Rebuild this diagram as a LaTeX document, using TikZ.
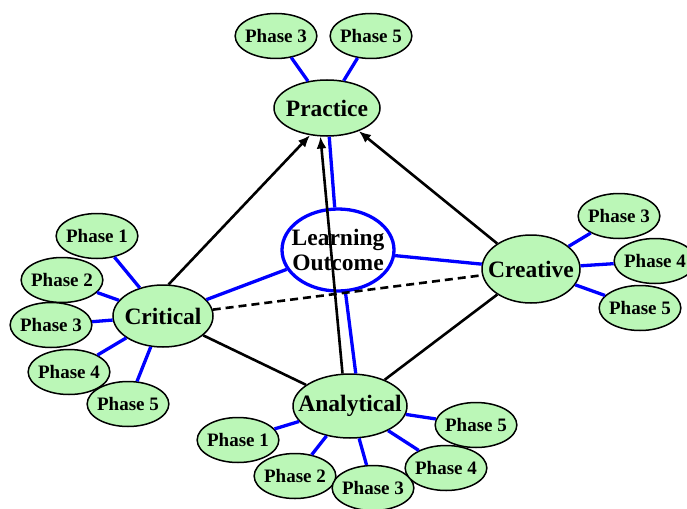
\documentclass[tikz,border=0pt]{standalone}
\usepackage{fontspec}
\setmainfont{Liberation Serif}
\usetikzlibrary{shapes.geometric,arrows.meta}
\definecolor{leafgreen}{RGB}{187,247,183}
\tikzset{
  phase/.style={ellipse, draw=black, line width=1.5pt, fill=leafgreen,
    inner xsep=-2pt, inner ysep=0pt, minimum width=80pt, minimum height=45pt,
    font=\bfseries\fontsize{19}{21}\selectfont},
  hub/.style={phase, inner xsep=-12pt, font=\bfseries\fontsize{23.5}{25}\selectfont},
  spoke/.style={blue, line width=3.3pt},
  link/.style={black, line width=2.6pt},
  toward/.style={link, -{Latex[length=12pt,width=10pt]}}
}
\begin{document}
\begin{tikzpicture}[x=1pt,y=-1pt]
		\useasboundingbox (0,0) rectangle (687,508);
		% the five main ideas
		\node[hub, minimum width=106pt, minimum height=56pt] (practice) at (327,108) {Practice};
		\node[hub, fill=white, draw=blue, line width=3.3pt, align=center,
		      minimum width=112pt, minimum height=82pt] (outcome) at (338,250) {Learning\\Outcome};
		\node[hub, minimum width=100pt, minimum height=62pt] (critical) at (163,316) {Critical};
		\node[hub, minimum width=114pt, minimum height=64pt] (analytical) at (350,406) {Analytical};
		\node[hub, minimum width=98pt, minimum height=68pt] (creative) at (531,269) {Creative};
		% phases around practice
		\node[phase] (pr3) at (276,36) {Phase 3};
		\node[phase] (pr5) at (371,36) {Phase 5};
		% phases around critical
		\node[phase] (ct1) at (97,236) {Phase 1};
		\node[phase] (ct2) at (62,280) {Phase 2};
		\node[phase] (ct3) at (51,325) {Phase 3};
		\node[phase] (ct4) at (69,372) {Phase 4};
		\node[phase] (ct5) at (128,404) {Phase 5};
		% phases around analytical
		\node[phase] (an1) at (238,440) {Phase 1};
		\node[phase] (an2) at (295,476) {Phase 2};
		\node[phase] (an3) at (373,488) {Phase 3};
		\node[phase] (an4) at (446,468) {Phase 4};
		\node[phase] (an5) at (476,425) {Phase 5};
		% phases around creative
		\node[phase] (cv3) at (619,216) {Phase 3};
		\node[phase] (cv4) at (655,261) {Phase 4};
		\node[phase] (cv5) at (640,308) {Phase 5};
		% blue spokes
		\draw[spoke] (practice) -- (pr3);
		\draw[spoke] (practice) -- (pr5);
		\draw[spoke] (critical) -- (ct1);
		\draw[spoke] (critical) -- (ct2);
		\draw[spoke] (critical) -- (ct3);
		\draw[spoke] (critical) -- (ct4);
		\draw[spoke] (critical) -- (ct5);
		\draw[spoke] (analytical) -- (an1);
		\draw[spoke] (analytical) -- (an2);
		\draw[spoke] (analytical) -- (an3);
		\draw[spoke] (analytical) -- (an4);
		\draw[spoke] (analytical) -- (an5);
		\draw[spoke] (creative) -- (cv3);
		\draw[spoke] (creative) -- (cv4);
		\draw[spoke] (creative) -- (cv5);
		\draw[spoke] (outcome) -- (practice);
		\draw[spoke] (outcome) -- (critical);
		\draw[spoke] (outcome) -- (creative);
		\draw[spoke] (outcome.-80) -- (analytical.80);
		% black links
		\draw[link] (critical) -- (analytical);
		\draw[link] (creative) -- (analytical);
		\draw[link, dashed, dash pattern=on 8pt off 5pt] (critical) -- (creative);
		\draw[toward] (critical.80) -- (practice.-122);
		\draw[toward] (creative.143) -- (practice.-36);
		\draw[toward] (analytical.103) -- (practice.-103);
\end{tikzpicture}
\end{document}
